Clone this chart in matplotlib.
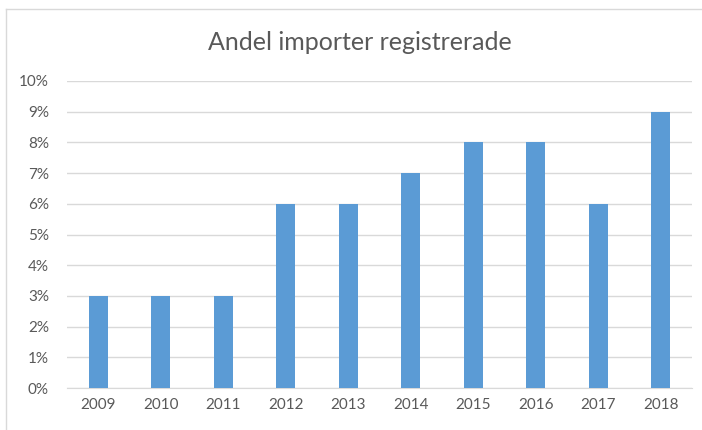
import matplotlib
matplotlib.use("Agg")
import matplotlib.pyplot as plt
from matplotlib.lines import Line2D
from matplotlib.ticker import PercentFormatter

years = ["2009", "2010", "2011", "2012", "2013", "2014", "2015", "2016", "2017", "2018"]
shares = [3, 3, 3, 6, 6, 7, 8, 8, 6, 9]  # percent
y_ticks = list(range(0, 11))

plt.rcParams["font.family"] = ["Lato", "DejaVu Sans"]

fig = plt.figure(figsize=(7.02, 4.30), dpi=100)
ax = fig.add_axes([67 / 702, 1 - 388 / 430, 625 / 702, (388 - 81) / 430])

ax.bar(years, shares, width=0.31, color="#5B9BD5", zorder=3)

ax.set_ylim(0, 10)
ax.set_xlim(-0.5, len(years) - 0.5)
ax.set_yticks(y_ticks)
ax.yaxis.set_major_formatter(PercentFormatter(decimals=0))
ax.grid(axis="y", color="#D9D9D9", linewidth=1, zorder=0)
for s in ax.spines.values():
    s.set_visible(False)
ax.spines["bottom"].set_visible(True)
ax.spines["bottom"].set_color("#D9D9D9")
ax.tick_params(length=0, colors="#595959", labelsize=11)
ax.tick_params(axis="x", pad=7)
ax.tick_params(axis="y", pad=13)

fig.text(360 / 702, 1 - 42 / 430, "Andel importer registrerade", ha="center", va="center",
         fontsize=18, color="#595959")

# chart frame, only top and left edges show in the crop
fig.add_artist(Line2D([6 / 702, 1], [1 - 9 / 430] * 2, color="#D9D9D9", linewidth=1))
fig.add_artist(Line2D([6 / 702] * 2, [0, 1 - 9 / 430], color="#D9D9D9", linewidth=1))

fig.savefig("out.png", dpi=100)
